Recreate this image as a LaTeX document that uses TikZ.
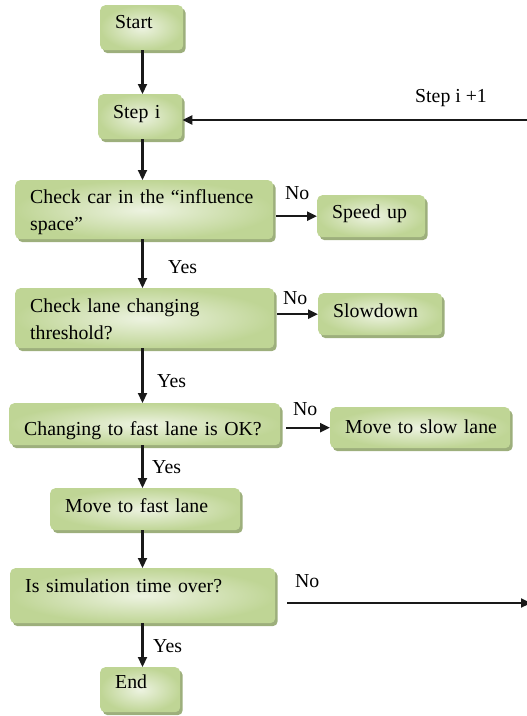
\documentclass[tikz,border=0pt]{standalone}
\usepackage{fontspec}
\setmainfont{Liberation Serif}
\usetikzlibrary{arrows.meta,shadows}
\definecolor{boxout}{HTML}{BFD595}
\definecolor{boxin}{HTML}{EDF3E1}
\definecolor{boxshadow}{HTML}{9DAF7C}

\begin{document}
\begin{tikzpicture}[x=1pt,y=-1pt,>={Triangle[length=10pt,width=9pt]},
  font=\fontsize{19.8}{27}\selectfont,
  flowbox/.style={anchor=north west,rounded corners=5pt,inner xsep=15pt,inner ysep=0pt,
    align=left,outer color=boxout,inner color=boxin,
    drop shadow={shadow xshift=2.5pt,shadow yshift=-3pt,fill=boxshadow,opacity=1}},
  flow/.style={->,line width=2.2pt,black!90},
  lbl/.style={anchor=base west,inner sep=0pt}]
\useasboundingbox (0,0) rectangle (527,716);
\node[flowbox,text width=53pt,text height=23pt,text depth=22pt] (start) at (100,5) {Start};
\node[flowbox,text width=54pt,text height=24pt,text depth=21pt] (step) at (98,94) {Step i};
\node[flowbox,text width=228pt,text height=23pt,text depth=36pt] (car) at (15,180) {\mbox{Check car in the “influence}\\space”};
\node[flowbox,text width=78pt,text height=23pt,text depth=19pt] (speed) at (317,195) {\mbox{Speed up}};
\node[flowbox,text width=229pt,text height=24pt,text depth=36pt] (lane) at (15,288) {Check lane changing\\threshold?};
\node[flowbox,text width=94pt,text height=24pt,text depth=18pt] (slowd) at (318,293) {Slowdown};
\node[flowbox,text width=241pt,text height=32pt,text depth=10pt] (change) at (9,403) {\mbox{Changing to fast lane is OK?}};
\node[flowbox,text width=150pt,text height=26pt,text depth=15pt] (slowlane) at (330,407) {\mbox{Move to slow lane}};
\node[flowbox,text width=160pt,text height=24pt,text depth=18pt] (fastlane) at (50,488) {\mbox{Move to fast lane}};
\node[flowbox,text width=235pt,text height=24pt,text depth=31pt] (sim) at (10,568) {\mbox{Is simulation time over?}};
\node[flowbox,text width=50pt,text height=21pt,text depth=24pt] (end) at (100,667) {End};
\coordinate (spine) at (142.5,0);
\coordinate (loopout) at (531,603);
\coordinate (loopin) at (527,120);
\draw[flow] (spine |- start.south) -- (spine |- step.north);
\draw[flow] (spine |- step.south) -- (spine |- car.north);
\draw[flow] (spine |- car.south) -- (spine |- lane.north);
\draw[flow] (spine |- lane.south) -- (spine |- change.north);
\draw[flow] (spine |- change.south) -- (spine |- fastlane.north);
\draw[flow] (spine |- fastlane.south) -- (spine |- sim.north);
\draw[flow] (spine |- sim.south) -- (spine |- end.north);
\draw[flow,shorten <=3pt] (car.east |- speed.west) -- (speed.west);
\draw[flow,shorten <=3pt] (lane.east |- slowd.west) -- (slowd.west);
\draw[flow,shorten <=6pt] (change.east |- slowlane.west) -- (slowlane.west);
\draw[flow,shorten <=12pt] (sim.east |- loopout) -- (loopout);
\draw[flow] (loopin) -- (step.east |- loopin);
\node[lbl] (no1) at (285,199) {No};
\node[lbl] (no2) at (283,304) {No};
\node[lbl] (no3) at (293,415) {No};
\node[lbl] (no4) at (295,587) {No};
\node[lbl] (yes1) at (168,273) {Yes};
\node[lbl] (yes2) at (157,387) {Yes};
\node[lbl] (yes3) at (152,473) {Yes};
\node[lbl] (yes4) at (153,652) {Yes};
\node[lbl] (next) at (415,102) {Step i +1};
\end{tikzpicture}
\end{document}
